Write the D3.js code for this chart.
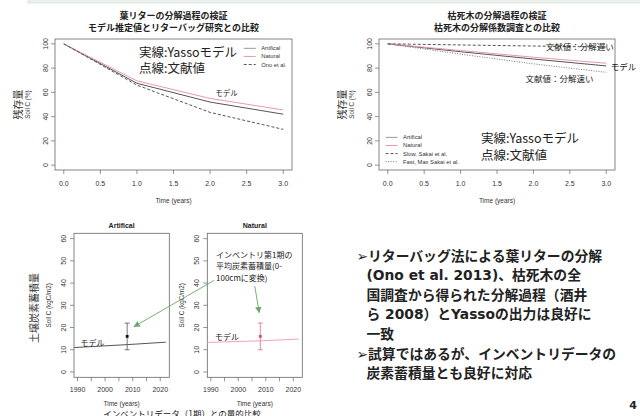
<!DOCTYPE html>
<html>
<head>
<meta charset="utf-8">
<script src="https://cdn.jsdelivr.net/npm/d3@7"></script>
<style>
  html, body { margin: 0; padding: 0; background: #fff; }
  svg { display: block; }
</style>
</head>
<body>
<div id="chart"></div>
<script>
// decay curves, remaining C (%) by year
const decayTime = [0, 1, 2, 3];
const leafArtifical = [100, 67.5, 52, 42];
const leafNatural = [100, 69.5, 55, 45.5];
const leafOno = [100, 66, 43.5, 29.5];
const woodArtifical = [100, 93.5, 87.5, 81.8];
const woodNatural = [100, 94.5, 89, 84];
const woodSlow = [100, 99.1, 98.2, 97.3];
const woodFast = [100, 91.5, 83.5, 76.5];
const timeTicks = [0, 0.5, 1, 1.5, 2, 2.5, 3];
const pctTicks = [0, 20, 40, 60, 80, 100];

// inventory comparison, soil C (kgC/m2)
const modelYears = [1986, 2008, 2022];
const invArtifical = [10.8, 12.3, 13.4];
const invNatural = [13.2, 14.0, 14.8];
const invYear = 2008;
const invMean = 16;
const invLow = 10;
const invHigh = 22;
const yearTicks = [1990, 1995, 2000, 2005, 2010, 2015, 2020];
const yearLabels = [1990, 2000, 2010, 2020];
const stockTicks = [0, 10, 20, 30, 40, 50, 60];

const bullets = [
  { text: '➢リターバッグ法による葉リターの分解', indent: false },
  { text: '(Ono et al. 2013)、枯死木の全', indent: true },
  { text: '国調査から得られた分解過程（酒井', indent: true },
  { text: 'ら 2008）とYassoの出力は良好に', indent: true },
  { text: '一致', indent: true },
  { text: '➢試算ではあるが、インベントリデータの', indent: false },
  { text: '炭素蓄積量とも良好に対応', indent: true }
];

const W = 640, H = 416;
const JP = '"Noto Sans CJK JP", sans-serif';
const RF = '"Liberation Sans", Arial, sans-serif';
const PINK = '#e99aab';
const AX = '#666';

const svg = d3.select('#chart').append('svg')
  .attr('width', W).attr('height', H)
  .attr('viewBox', `0 0 ${W} ${H}`)
  .style('background', '#fff');

const defs = svg.append('defs');
defs.append('marker')
  .attr('id', 'arrow-green')
  .attr('viewBox', '0 0 10 10')
  .attr('refX', 9).attr('refY', 5)
  .attr('markerWidth', 7).attr('markerHeight', 7)
  .attr('orient', 'auto')
  .append('path').attr('d', 'M0,0 L10,5 L0,10 z').attr('fill', '#6aa86a');

// slide header band
svg.append('rect').attr('x', 27).attr('y', 0).attr('width', W - 27).attr('height', 3).attr('fill', '#eaf0ea');
svg.append('line').attr('x1', 27).attr('x2', W).attr('y1', 3).attr('y2', 3).attr('stroke', '#dbe3db').attr('stroke-width', 0.8);

function frame(g, box, x, y, xt, xl, yt, opt) {
  g.append('rect')
    .attr('x', box.l).attr('y', box.t)
    .attr('width', box.r - box.l).attr('height', box.b - box.t)
    .attr('fill', 'none').attr('stroke', AX).attr('stroke-width', 0.8);

  const xa = g.append('g');
  xa.selectAll('line').data(xt).enter().append('line')
    .attr('x1', d => x(d)).attr('x2', d => x(d))
    .attr('y1', box.b).attr('y2', box.b + 4)
    .attr('stroke', AX).attr('stroke-width', 0.7);
  xa.selectAll('text').data(xl).enter().append('text')
    .attr('x', d => x(d)).attr('y', box.b + opt.xLabOff)
    .attr('text-anchor', 'middle')
    .attr('font-family', RF).attr('font-size', 7).attr('fill', '#333')
    .text(d => opt.xFmt(d));

  const ya = g.append('g');
  ya.selectAll('line').data(yt).enter().append('line')
    .attr('x1', box.l - 4).attr('x2', box.l)
    .attr('y1', d => y(d)).attr('y2', d => y(d))
    .attr('stroke', AX).attr('stroke-width', 0.7);
  ya.selectAll('text').data(yt).enter().append('text')
    .attr('transform', d => `translate(${box.l - opt.yLabOff},${y(d)}) rotate(-90)`)
    .attr('text-anchor', 'middle').attr('dominant-baseline', 'central')
    .attr('font-family', RF).attr('font-size', 7).attr('fill', '#333')
    .text(d => d);

  g.append('text')
    .attr('x', (box.l + box.r) / 2).attr('y', box.b + opt.xTitleOff)
    .attr('text-anchor', 'middle')
    .attr('font-family', RF).attr('font-size', 6.5).attr('fill', '#333')
    .text('Time (years)');

  g.append('text')
    .attr('transform', `translate(${box.l - opt.yTitleOff},${(box.t + box.b) / 2}) rotate(-90)`)
    .attr('text-anchor', 'middle').attr('dominant-baseline', 'central')
    .attr('font-family', RF).attr('font-size', 6.3).attr('fill', '#333')
    .text(opt.yTitle);
}

function drawDecay(cfg) {
  const box = cfg.box;
  const g = svg.append('g');
  const x = d3.scaleLinear().domain([-0.12, 3.12]).range([box.l, box.r]);
  const y = d3.scaleLinear().domain([-4, 104]).range([box.b, box.t]);

  frame(g, box, x, y, timeTicks, timeTicks, pctTicks, {
    xLabOff: 15.5, xTitleOff: 32.5, yLabOff: 9.5, yTitleOff: 28,
    xFmt: d3.format('.1f'), yTitle: 'Soil C (%)'
  });

  cfg.titles.forEach((t, i) => {
    g.append('text')
      .attr('x', (box.l + box.r) / 2).attr('y', 18.5 + i * 12.7)
      .attr('text-anchor', 'middle')
      .attr('font-family', JP).attr('font-size', 9).attr('font-weight', 700).attr('fill', '#222')
      .text(t);
  });

  g.append('text')
    .attr('transform', `translate(${box.l - 38},${(box.t + box.b) / 2}) rotate(-90)`)
    .attr('text-anchor', 'middle').attr('dominant-baseline', 'central')
    .attr('font-family', JP).attr('font-size', 10).attr('fill', '#333')
    .text('残存量');

  const line = d3.line().x((d, i) => x(decayTime[i])).y(d => y(d));
  cfg.series.forEach(s => {
    g.append('path').datum(s.values)
      .attr('d', line)
      .attr('fill', 'none').attr('stroke', s.color).attr('stroke-width', 1)
      .attr('stroke-dasharray', s.dash || null);
  });

  const lg = g.append('g').attr('transform', `translate(${x(cfg.legend.x)},${y(cfg.legend.y)})`);
  cfg.series.forEach((s, i) => {
    lg.append('line')
      .attr('x1', 0).attr('x2', 12).attr('y1', i * 8.1).attr('y2', i * 8.1)
      .attr('stroke', s.legendColor || s.color).attr('stroke-width', 1)
      .attr('stroke-dasharray', s.dash || null);
    lg.append('text')
      .attr('x', 17.5).attr('y', i * 8.1).attr('dominant-baseline', 'central')
      .attr('font-family', RF).attr('font-size', 5.8).attr('fill', '#333')
      .text(s.name);
  });

  cfg.notes.forEach(n => {
    g.append('text')
      .attr('x', x(n.t)).attr('y', y(n.v))
      .attr('dominant-baseline', 'central')
      .attr('font-family', JP).attr('font-size', n.size).attr('fill', '#222')
      .text(n.text);
  });
}

drawDecay({
  box: { l: 55, r: 292, t: 39, b: 170 },
  titles: ['葉リターの分解過程の検証', 'モデル推定値とリターバッグ研究との比較'],
  series: [
    { name: 'Artifical', values: leafArtifical, color: '#555', legendColor: '#999' },
    { name: 'Natural', values: leafNatural, color: PINK },
    { name: 'Ono et al.', values: leafOno, color: '#555', dash: '3,2' }
  ],
  legend: { x: 2.46, y: 96.3 },
  notes: [
    { text: '実線:Yassoモデル', t: 1.03, v: 93.6, size: 12.5 },
    { text: '点線:文献値', t: 1.03, v: 80.2, size: 12.5 },
    { text: 'モデル', t: 2.07, v: 59.8, size: 7.5 }
  ]
});

drawDecay({
  box: { l: 379, r: 615, t: 39, b: 170 },
  titles: ['枯死木の分解過程の検証', '枯死木の分解係数調査との比較'],
  series: [
    { name: 'Artifical', values: woodArtifical, color: '#555', legendColor: '#999' },
    { name: 'Natural', values: woodNatural, color: PINK },
    { name: 'Slow, Sakai et al.', values: woodSlow, color: '#555', dash: '3,2' },
    { name: 'Fast, Max Sakai et al.', values: woodFast, color: '#777', dash: '1,1.5' }
  ],
  legend: { x: -0.03, y: 22.9 },
  notes: [
    { text: '文献値：分解遅い', t: 2.17, v: 98.6, size: 8.5 },
    { text: 'モデル', t: 3.06, v: 82, size: 8.5 },
    { text: '文献値：分解速い', t: 1.89, v: 72.1, size: 8.5 },
    { text: '実線:Yassoモデル', t: 1.28, v: 22.6, size: 12.5 },
    { text: '点線:文献値', t: 1.28, v: 9.1, size: 12.5 }
  ]
});

function drawInventory(cfg) {
  const box = cfg.box;
  const g = svg.append('g');
  const x = d3.scaleLinear().domain([1988.72, 2023.28]).range([box.l, box.r]);
  const y = d3.scaleLinear().domain([-2.4, 62.4]).range([box.b, box.t]);

  frame(g, box, x, y, yearTicks, yearLabels, stockTicks, {
    xLabOff: 14.2, xTitleOff: 28.3, yLabOff: 10.7, yTitleOff: 25.7,
    xFmt: d => d, yTitle: 'Soil C (kgC/m2)'
  });

  g.append('text')
    .attr('x', (box.l + box.r) / 2).attr('y', 228.3)
    .attr('text-anchor', 'middle')
    .attr('font-family', RF).attr('font-size', 7).attr('font-weight', 700).attr('fill', '#222')
    .text(cfg.title);

  const clipId = 'clip-' + cfg.title;
  defs.append('clipPath').attr('id', clipId)
    .append('rect').attr('x', box.l).attr('y', box.t).attr('width', box.r - box.l).attr('height', box.b - box.t);

  g.append('path').datum(cfg.model)
    .attr('clip-path', `url(#${clipId})`)
    .attr('d', d3.line().x((d, i) => x(modelYears[i])).y(d => y(d)))
    .attr('fill', 'none').attr('stroke', cfg.lineColor).attr('stroke-width', 1);

  const eb = g.append('g').attr('stroke', cfg.barColor).attr('stroke-width', 0.8);
  eb.append('line').attr('x1', x(invYear)).attr('x2', x(invYear)).attr('y1', y(invLow)).attr('y2', y(invHigh));
  [invLow, invHigh].forEach(v => {
    eb.append('line').attr('x1', x(invYear) - 2.5).attr('x2', x(invYear) + 2.5).attr('y1', y(v)).attr('y2', y(v));
  });
  g.append('rect')
    .attr('x', x(invYear) - 1.4).attr('y', y(invMean) - 1.4)
    .attr('width', 2.8).attr('height', 2.8)
    .attr('fill', cfg.pointColor);

  g.append('text')
    .attr('x', x(cfg.note.t)).attr('y', y(cfg.note.v))
    .attr('dominant-baseline', 'central')
    .attr('font-family', JP).attr('font-size', 8).attr('fill', '#222')
    .text('モデル');

  return { x, y };
}

const art = drawInventory({
  box: { l: 74, r: 169.3, t: 233.3, b: 377.3 },
  title: 'Artifical', model: invArtifical,
  lineColor: '#555', barColor: '#555', pointColor: '#111',
  note: { t: 1991.1, v: 13.4 }
});
const nat = drawInventory({
  box: { l: 207.3, r: 302.3, t: 233.3, b: 377.3 },
  title: 'Natural', model: invNatural,
  lineColor: '#f0a3b3', barColor: '#e36a84', pointColor: '#e04a6a',
  note: { t: 1991.5, v: 15.9 }
});

// shared y title for the bottom pair
svg.append('text')
  .attr('transform', 'translate(33,308) rotate(-90)')
  .attr('text-anchor', 'middle').attr('dominant-baseline', 'central')
  .attr('font-family', JP).attr('font-size', 10).attr('fill', '#333')
  .text('土壌炭素蓄積量');

// inventory annotation and arrows
['インベントリ第1期の', '平均炭素蓄積量(0-', '100cmに変換)'].forEach((t, i) => {
  svg.append('text')
    .attr('x', nat.x(1991.9)).attr('y', nat.y(53) + i * 11.7)
    .attr('dominant-baseline', 'central')
    .attr('font-family', JP).attr('font-size', 8).attr('fill', '#222')
    .text(t);
});
svg.append('line')
  .attr('x1', nat.x(1991.3)).attr('y1', nat.y(41.3))
  .attr('x2', art.x(2010.5)).attr('y2', art.y(20.4))
  .attr('stroke', '#6aa86a').attr('stroke-width', 0.9)
  .attr('marker-end', 'url(#arrow-green)');
svg.append('line')
  .attr('x1', nat.x(2006)).attr('y1', nat.y(38.6))
  .attr('x2', nat.x(2007.6)).attr('y2', nat.y(26.7))
  .attr('stroke', '#6aa86a').attr('stroke-width', 0.9)
  .attr('marker-end', 'url(#arrow-green)');

svg.append('text')
  .attr('x', 182).attr('y', 416.5)
  .attr('text-anchor', 'middle')
  .attr('font-family', JP).attr('font-size', 8.5).attr('fill', '#222')
  .text('インベントリデータ（1期）との量的比較');

// bullet text
const bt = svg.append('g')
  .attr('font-family', '"DejaVu Sans", "Noto Sans CJK JP", sans-serif')
  .attr('font-size', 13.8).attr('font-weight', 700).attr('fill', '#222');
bullets.forEach((b, i) => {
  bt.append('text')
    .attr('x', b.indent ? 366.5 : 356.5)
    .attr('y', 255.5 + i * 19.6)
    .attr('dominant-baseline', 'central')
    .text(b.text);
});

svg.append('text')
  .attr('x', 633).attr('y', 405).attr('text-anchor', 'middle').attr('dominant-baseline', 'central')
  .attr('font-family', '"DejaVu Sans", sans-serif').attr('font-size', 11).attr('font-weight', 700).attr('fill', '#222')
  .text('4');
</script>
</body>
</html>
